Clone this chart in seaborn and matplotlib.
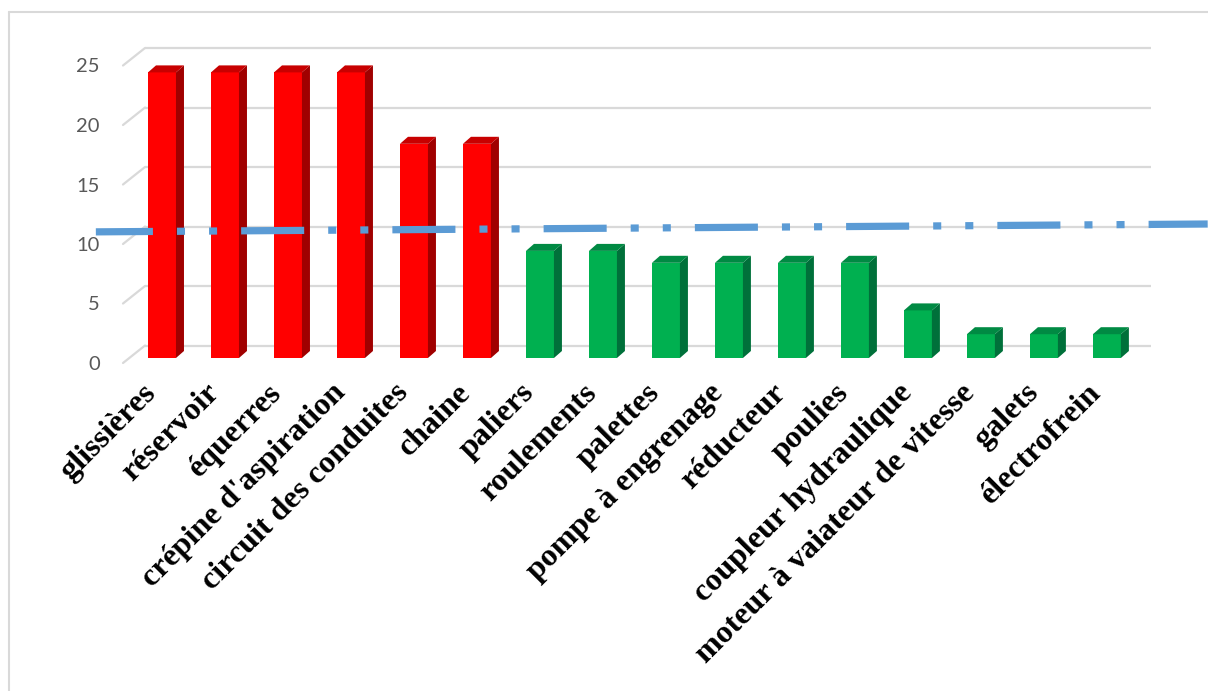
import numpy as np
import pandas as pd
import matplotlib
matplotlib.use("Agg")
import matplotlib.pyplot as plt
import seaborn as sns
from matplotlib.patches import Polygon
from matplotlib.lines import Line2D
from matplotlib.transforms import ScaledTranslation

# ---------------- data ----------------
categories = ["glissières", "réservoir", "équerres", "crépine d'aspiration",
              "circuit des conduites", "chaine", "paliers", "roulements",
              "palettes", "pompe à engrenage", "réducteur", "poulies",
              "coupleur hydraulique", "moteur à vaiateur de vitesse",
              "galets", "électrofrein"]
values = [24, 24, 24, 24, 18, 18, 9, 9, 8, 8, 8, 8, 4, 2, 2, 2]
groups = ["rouge"] * 6 + ["vert"] * 10
y_ticks = [0, 5, 10, 15, 20, 25]
threshold_x = [-1.05, 16.6]
threshold_y = [10.6, 11.26]

# ---------------- style ----------------
sns.set_theme(style="white")
plt.rcParams['lines.scale_dashes'] = False

W, H = 1208, 691
fig = plt.figure(figsize=(W / 100, H / 100), dpi=100)
fig.patch.set_facecolor("white")

# axes geometry (pixels from top)
px_left, px_right = 123, 1151
px_zero = 358
px_per_unit_y = 11.9
ymax = 27
ax = fig.add_axes([px_left / W, (H - px_zero) / H,
                   (px_right - px_left) / W, ymax * px_per_unit_y / H])

front = {"rouge": "#FF0000", "vert": "#00B050"}
side = {"rouge": "#A00000", "vert": "#00703A"}
top = {"rouge": "#C80000", "vert": "#008A43"}

df = pd.DataFrame({"cat": categories, "val": values, "grp": groups})
sns.barplot(data=df, x="cat", y="val", hue="grp", palette=front,
            dodge=False, width=0.444, legend=False, ax=ax,
            saturation=1, linewidth=0, zorder=3)

xlim = (-0.619, 15.70)
ax.set_xlim(*xlim)
ax.set_ylim(0, ymax)

# 3D side / top faces derived from the drawn bars
dx = 8 / 63.0
dy = 7 / px_per_unit_y
face_by_color = {}
for g, c in front.items():
    face_by_color[matplotlib.colors.to_hex(c)] = g
for p in list(ax.patches):
    h = p.get_height()
    if h <= 0:
        continue
    x0, w = p.get_x(), p.get_width()
    g = face_by_color.get(matplotlib.colors.to_hex(p.get_facecolor()), "vert")
    ax.add_patch(Polygon([(x0 + w, 0), (x0 + w + dx, dy), (x0 + w + dx, h + dy), (x0 + w, h)],
                         closed=True, facecolor=side[g], edgecolor="none", zorder=3))
    ax.add_patch(Polygon([(x0, h), (x0 + dx, h + dy), (x0 + w + dx, h + dy), (x0 + w, h)],
                         closed=True, facecolor=top[g], edgecolor="none", zorder=3))

# back-wall gridlines with diagonal floor stubs
back_off = 12.5 / px_per_unit_y
front_off = 5 / px_per_unit_y
back_x = (145 - 162) / 63.0
for t in y_ticks:
    ax.plot([back_x, xlim[1]], [t + back_off] * 2, color="#D9D9D9", lw=1.6,
            zorder=1, clip_on=False, solid_capstyle="butt")
    ax.plot([xlim[0], back_x], [t - front_off, t + back_off], color="#D9D9D9",
            lw=1.6, zorder=1, clip_on=False)

# threshold dash-dot-dot line
ax.plot(threshold_x, threshold_y, color="#5B9BD5", lw=5.2, zorder=5,
        clip_on=False, dash_capstyle="butt",
        linestyle=(4.3, (45.4, 17.3, 5.8, 17.3, 5.8, 17.3)))

# ticks
for s in ax.spines.values():
    s.set_visible(False)
ax.set_xlabel("")
ax.set_ylabel("")
ax.set_yticks(y_ticks)
ax.set_yticklabels([str(t) for t in y_ticks], fontsize=14.5, color="#595959",
                   family=["Lato", "DejaVu Sans"])
ax.tick_params(axis="y", length=0, pad=16.6)
shift = ScaledTranslation(0, -5 / 100, fig.dpi_scale_trans)
for lab in ax.get_yticklabels():
    lab.set_transform(lab.get_transform() + shift)

ax.set_xticks(range(len(categories)))
ax.set_xticklabels(categories, rotation=45, ha="right", va="center",
                   rotation_mode="anchor", fontsize=23, fontweight="bold",
                   color="black", family=["Liberation Serif", "DejaVu Serif"])
ax.tick_params(axis="x", length=0, pad=22)
xshift = ScaledTranslation(-10 / 100, 0, fig.dpi_scale_trans)
for lab in ax.get_xticklabels():
    lab.set_transform(lab.get_transform() + xshift)

# chart-area border (left and top)
fig.add_artist(Line2D([8.5 / W, 8.5 / W], [0, 1 - 11.5 / H], color="#D9D9D9", lw=1.5))
fig.add_artist(Line2D([8.5 / W, 1], [1 - 11.5 / H, 1 - 11.5 / H], color="#D9D9D9", lw=1.5))

fig.savefig("out.png", dpi=100, facecolor="white")
